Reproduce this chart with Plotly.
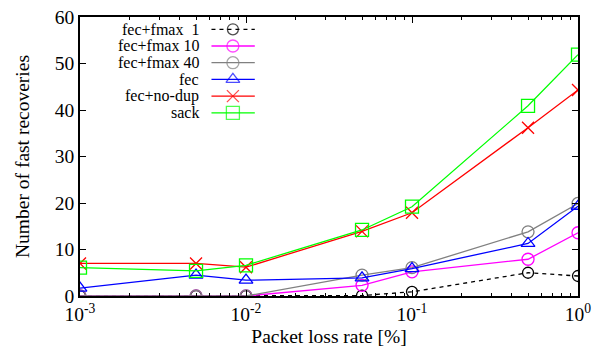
import plotly.graph_objects as go

loss_rate = [0.001, 0.005, 0.01, 0.05, 0.1, 0.5, 1.0]
fmax1 = [0.0, 0.0, 0.0, 0.1, 0.9, 5.0, 4.3]
fmax10 = [0.0, 0.0, 0.0, 2.3, 5.2, 7.9, 13.6]
fmax40 = [0.0, 0.0, 0.0, 4.5, 6.1, 13.8, 19.9]
fec = [1.7, 4.5, 3.4, 3.9, 5.9, 11.3, 19.3]
nodup = [7.0, 7.0, 6.2, 13.9, 17.9, 36.2, 44.3]
sack = [6.1, 5.4, 6.6, 14.2, 19.2, 40.9, 51.9]

x_tickvals = [0.001, 0.01, 0.1, 1.0]
x_ticktext = ["10<sup>-3</sup>", "10<sup>-2</sup>", "10<sup>-1</sup>", "10<sup>0</sup>"]

series = [
    ("fec+fmax  1", fmax1, "black", "4px,4px", "circle-open", 11),
    ("fec+fmax 10", fmax10, "#ff00ff", "solid", "circle-open", 12),
    ("fec+fmax 40", fmax40, "#808080", "solid", "circle-open", 12),
    ("fec", fec, "#0000ff", "solid", "triangle-up-open", 12),
    ("fec+no-dup", nodup, "#ff0000", "solid", "x-thin-open", 12),
    ("sack", sack, "#00ff00", "solid", "square-open", 13),
]

font = "Liberation Serif"
fig = go.Figure()

# legend layout (domain fractions of the plot area)
leg_text_x = 0.243
leg_line_x0, leg_line_x1, leg_mark_x = 0.264, 0.351, 0.307
leg_y0, leg_dy = 0.956, 0.0599

for i, (name, ys, color, dash, sym, size) in enumerate(series):
    fig.add_trace(go.Scatter(
        x=loss_rate, y=ys, name=name, mode="lines+markers", showlegend=False,
        line=dict(color=color, width=1.3, dash=dash),
        marker=dict(symbol=sym, size=size, color=color, line=dict(color=color, width=1.3)),
    ))
    ly = leg_y0 - i * leg_dy
    fig.add_annotation(x=leg_text_x, y=ly, xref="x domain", yref="y domain",
                       text=name.replace("  ", "&nbsp;&nbsp;"), showarrow=False,
                       xanchor="right", yanchor="middle",
                       font=dict(family=font, size=16, color="black"))
    fig.add_trace(go.Scatter(
        x=[leg_line_x0, leg_mark_x, leg_line_x1], y=[ly, ly, ly],
        xaxis="x2", yaxis="y2", mode="lines+markers", showlegend=False,
        hoverinfo="skip",
        line=dict(color=color, width=1.3, dash=dash),
        marker=dict(symbol=sym, size=[0, size, 0], color=color, line=dict(color=color, width=1.3)),
    ))

fig.update_layout(
    width=601, height=347,
    margin=dict(l=80, r=23, t=17, b=51),
    paper_bgcolor="white", plot_bgcolor="white",
    font=dict(family=font, size=19.5, color="black"),
    showlegend=False,
    xaxis=dict(
        type="log", range=[-3, 0], tickvals=x_tickvals, ticktext=x_ticktext,
        showgrid=False, zeroline=False, automargin=False,
        showline=True, linecolor="black", linewidth=1.5, mirror="ticks",
        ticks="inside", ticklen=6, tickcolor="black",
        minor=dict(ticks="inside", ticklen=3, dtick="D1", showgrid=False, tickcolor="black"),
        title=dict(text="Packet loss rate [%]", font=dict(size=19.5), standoff=8),
    ),
    yaxis=dict(
        range=[0, 60], dtick=10,
        showgrid=False, zeroline=False, automargin=False,
        showline=True, linecolor="black", linewidth=1.5, mirror="ticks",
        ticks="inside", ticklen=6, tickcolor="black",
        title=dict(text="Number of fast recoveries", font=dict(size=19.5), standoff=20),
    ),
    xaxis2=dict(overlaying="x", range=[0, 1], visible=False, anchor="y2"),
    yaxis2=dict(overlaying="y", range=[0, 1], visible=False, anchor="x2"),
)

fig.write_html("out.html")
